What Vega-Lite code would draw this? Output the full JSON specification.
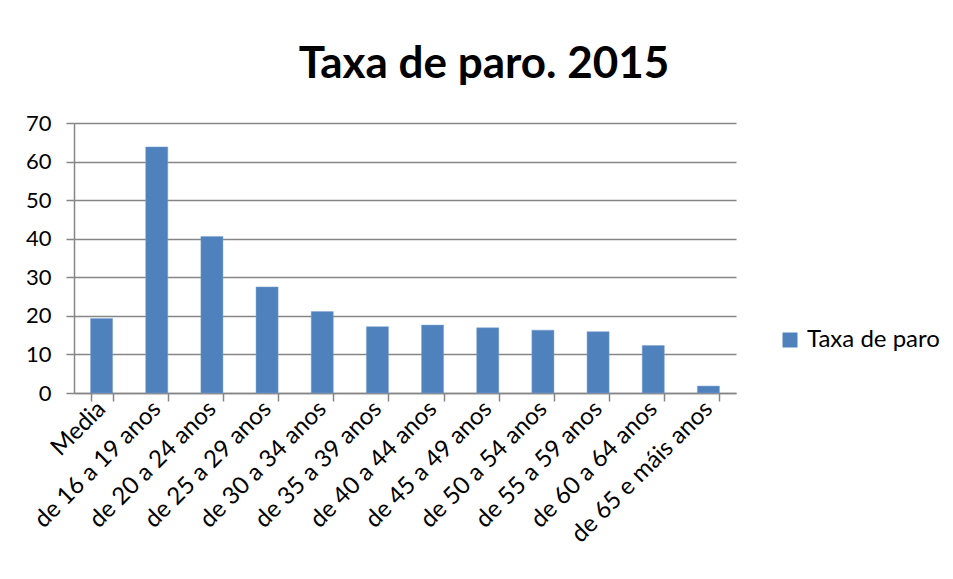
{
  "$schema": "https://vega.github.io/schema/vega-lite/v6.json",
  "autosize": {"type": "none"},
  "padding": {"left": 74, "top": 123, "right": 217, "bottom": 186},
  "width": 662,
  "height": 270,
  "background": "white",
  "title": {
    "text": "Taxa de paro. 2015",
    "font": "Lato",
    "fontSize": 44,
    "fontWeight": "bold",
    "color": "#000000",
    "anchor": "middle",
    "frame": "group",
    "dx": 79,
    "baseline": "alphabetic",
    "offset": -10
  },
  "data": {
    "values": [
      {"grupo": "Media", "taxa": 19.3, "serie": "Taxa de paro"},
      {"grupo": "de 16 a 19 anos", "taxa": 63.8, "serie": "Taxa de paro"},
      {"grupo": "de 20 a 24 anos", "taxa": 40.6, "serie": "Taxa de paro"},
      {"grupo": "de 25 a 29 anos", "taxa": 27.5, "serie": "Taxa de paro"},
      {"grupo": "de 30 a 34 anos", "taxa": 21.1, "serie": "Taxa de paro"},
      {"grupo": "de 35 a 39 anos", "taxa": 17.2, "serie": "Taxa de paro"},
      {"grupo": "de 40 a 44 anos", "taxa": 17.6, "serie": "Taxa de paro"},
      {"grupo": "de 45 a 49 anos", "taxa": 16.9, "serie": "Taxa de paro"},
      {"grupo": "de 50 a 54 anos", "taxa": 16.3, "serie": "Taxa de paro"},
      {"grupo": "de 55 a 59 anos", "taxa": 15.9, "serie": "Taxa de paro"},
      {"grupo": "de 60 a 64 anos", "taxa": 12.3, "serie": "Taxa de paro"},
      {"grupo": "de 65 e máis anos", "taxa": 1.8, "serie": "Taxa de paro"}
    ]
  },
  "mark": {"type": "bar", "stroke": "#7da2d0", "strokeWidth": 0.5},
  "encoding": {
    "x": {
      "field": "grupo",
      "type": "nominal",
      "sort": null,
      "title": null,
      "scale": {"paddingInner": 0.6, "paddingOuter": 0.3},
      "axis": {
        "labelAngle": -45,
        "labelAlign": "right",
        "labelBaseline": "middle",
        "labelFont": "Lato",
        "labelFontSize": 24,
        "labelColor": "#000000",
        "labelPadding": 4,
        "labelLimit": 400,
        "tickBand": "extent",
        "tickSize": 8,
        "tickColor": "#868686",
        "tickWidth": 1.5,
        "domainColor": "#868686",
        "domainWidth": 1.5,
        "grid": false
      }
    },
    "y": {
      "field": "taxa",
      "type": "quantitative",
      "title": null,
      "scale": {"domain": [0, 70], "nice": false},
      "axis": {
        "values": [0, 10, 20, 30, 40, 50, 60, 70],
        "labelFont": "Lato",
        "labelFontSize": 22,
        "labelColor": "#000000",
        "labelPadding": 15,
        "tickSize": 8,
        "tickColor": "#868686",
        "tickWidth": 1.5,
        "domainColor": "#868686",
        "domainWidth": 1.5,
        "gridColor": "#868686",
        "gridWidth": 1.5
      }
    },
    "color": {
      "field": "serie",
      "type": "nominal",
      "scale": {"range": ["#4f81bd"]},
      "legend": {
        "title": null,
        "orient": "none",
        "legendX": 704,
        "legendY": 205,
        "padding": 0,
        "symbolType": "square",
        "symbolSize": 225,
        "symbolStrokeWidth": 0,
        "labelFont": "Lato",
        "labelFontSize": 24,
        "labelColor": "#000000",
        "labelOffset": 5
      }
    }
  },
  "config": {"view": {"stroke": null}}
}
